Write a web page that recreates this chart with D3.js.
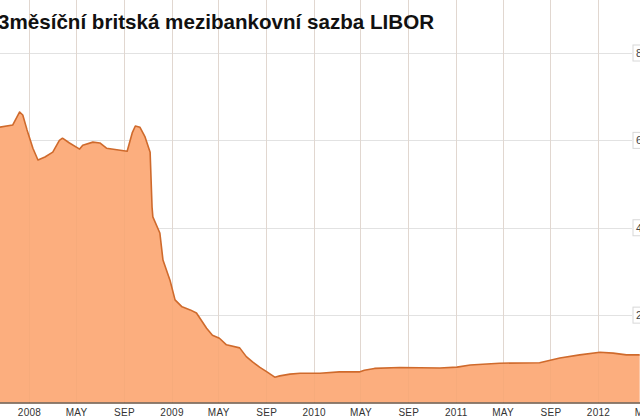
<!DOCTYPE html>
<html><head><meta charset="utf-8">
<script src="https://cdn.jsdelivr.net/npm/d3@7"></script>
<style>html,body{margin:0;padding:0;background:#fff;overflow:hidden}svg{display:block}</style>
</head><body>
<svg id="c" width="640" height="420"></svg>
<script>
const title = "3měsíční britská mezibankovní sazba LIBOR";
const dates = ["2007-10-17","2007-11-20","2007-12-08","2007-12-16","2007-12-27","2008-01-11","2008-01-24","2008-02-11","2008-03-02","2008-03-19","2008-03-27","2008-04-14","2008-05-10","2008-05-18","2008-06-13","2008-07-01","2008-07-18","2008-09-09","2008-09-22","2008-09-30","2008-10-12","2008-10-25","2008-11-07","2008-11-12","2008-11-14","2008-12-02","2008-12-10","2008-12-28","2009-01-10","2009-01-28","2009-02-18","2009-03-06","2009-04-01","2009-04-16","2009-05-04","2009-05-22","2009-06-25","2009-07-12","2009-07-28","2009-08-15","2009-09-03","2009-09-23","2009-10-06","2009-11-01","2009-11-27","2010-01-17","2010-03-08","2010-04-28","2010-05-11","2010-06-06","2010-08-10","2010-11-21","2011-01-04","2011-02-07","2011-04-23","2011-08-04","2011-09-25","2011-11-15","2012-01-06","2012-02-09","2012-03-14","2012-04-17"];
const rates = [6.30,6.35,6.65,6.58,6.24,5.82,5.55,5.62,5.73,6.00,6.05,5.94,5.80,5.89,5.96,5.94,5.82,5.75,6.17,6.33,6.30,6.08,5.73,4.47,4.25,3.88,3.26,2.80,2.35,2.19,2.12,2.05,1.70,1.54,1.47,1.32,1.25,1.05,0.93,0.81,0.70,0.58,0.61,0.65,0.67,0.67,0.70,0.70,0.74,0.78,0.80,0.79,0.81,0.86,0.90,0.91,1.02,1.09,1.15,1.13,1.09,1.09];
const xTicks = ["2008-01-01","2008-05-01","2008-09-01","2009-01-01","2009-05-01","2009-09-01","2010-01-01","2010-05-01","2010-09-01","2011-01-01","2011-05-01","2011-09-01","2012-01-01","2012-05-01"];
const yTicks = [2,4,6,8];
const monthNames = ["JAN","FEB","MAR","APR","MAY","JUN","JUL","AUG","SEP","OCT","NOV","DEC"];

const parse = d3.utcParse("%Y-%m-%d");
const data = dates.map((d,i)=>({date:parse(d), v:rates[i]}));
const svg = d3.select("#c");
const x = d3.scaleUtc().domain([parse("2008-01-01"), parse("2012-01-01")]).range([29, 598]);
const y = d3.scaleLinear().domain([0, 8]).range([402.5, 53]);
const W = 640;

// horizontal grid
svg.append("g").selectAll("line").data(yTicks).join("line")
  .attr("x1", 0).attr("x2", 632).attr("y1", d=>Math.round(y(d))+0.5).attr("y2", d=>Math.round(y(d))+0.5)
  .attr("stroke", "#e2e2e2").attr("stroke-width", 1);
// vertical grid
svg.append("g").selectAll("line").data(xTicks.map(parse)).join("line")
  .attr("x1", d=>Math.round(x(d))+0.5).attr("x2", d=>Math.round(x(d))+0.5)
  .attr("y1", 0).attr("y2", 403)
  .attr("stroke", "#e2e2e2").attr("stroke-width", 1);

// area
const area = d3.area().x(d=>x(d.date)).y0(y(0)).y1(d=>y(d.v)).curve(d3.curveLinear);
svg.append("path").datum(data).attr("d", area).attr("fill", "#fcae7e");
// faint grid over fill
svg.append("g").selectAll("line").data(xTicks.map(parse)).join("line")
  .attr("x1", d=>Math.round(x(d))+0.5).attr("x2", d=>Math.round(x(d))+0.5)
  .attr("y1", 0).attr("y2", 403)
  .attr("stroke", "#e09a6e").attr("stroke-opacity", 0.15).attr("stroke-width", 1);
const line = d3.line().x(d=>x(d.date)).y(d=>y(d.v));
svg.append("path").datum(data).attr("d", line).attr("fill", "none")
  .attr("stroke", "#cf6a2c").attr("stroke-width", 1.6).attr("stroke-linejoin","round");

// baseline
svg.append("line").attr("x1",0).attr("x2",W).attr("y1",y(0)+0.5).attr("y2",y(0)+0.5)
  .attr("stroke","#6a5646").attr("stroke-width",1.6);

// bottom axis labels
const xAxis = d3.axisBottom(x).tickValues(xTicks.map(parse))
  .tickFormat(d => d.getUTCMonth()===0 ? String(d.getUTCFullYear()) : monthNames[d.getUTCMonth()])
  .tickSize(0).tickPadding(0);
const gx = svg.append("g").attr("transform", "translate(0,409)").call(xAxis);
gx.select(".domain").remove();
gx.selectAll("text").attr("font-family","Liberation Sans, Arial, sans-serif").attr("font-size", 10)
  .attr("fill","#333").attr("letter-spacing", 0.3);

// right axis labels (cut off at the edge, as in the source)
const ly = svg.append("g").selectAll("g").data(yTicks).join("g")
  .attr("transform", d=>`translate(633,${y(d)})`);
ly.append("rect").attr("x",0).attr("y",-8).attr("width",14).attr("height",16)
  .attr("fill","#fff").attr("stroke","#d8d8d8");
ly.append("text").attr("x",3).attr("y",4).text(d=>d)
  .attr("font-family","Liberation Sans, Arial, sans-serif").attr("font-size",11).attr("fill","#444");

// title
svg.append("text").attr("x",-2).attr("y",29).text(title)
  .attr("font-family","Liberation Sans, Arial, sans-serif").attr("font-weight","bold")
  .attr("font-size",20.6).attr("fill","#111");
</script>
</body></html>
